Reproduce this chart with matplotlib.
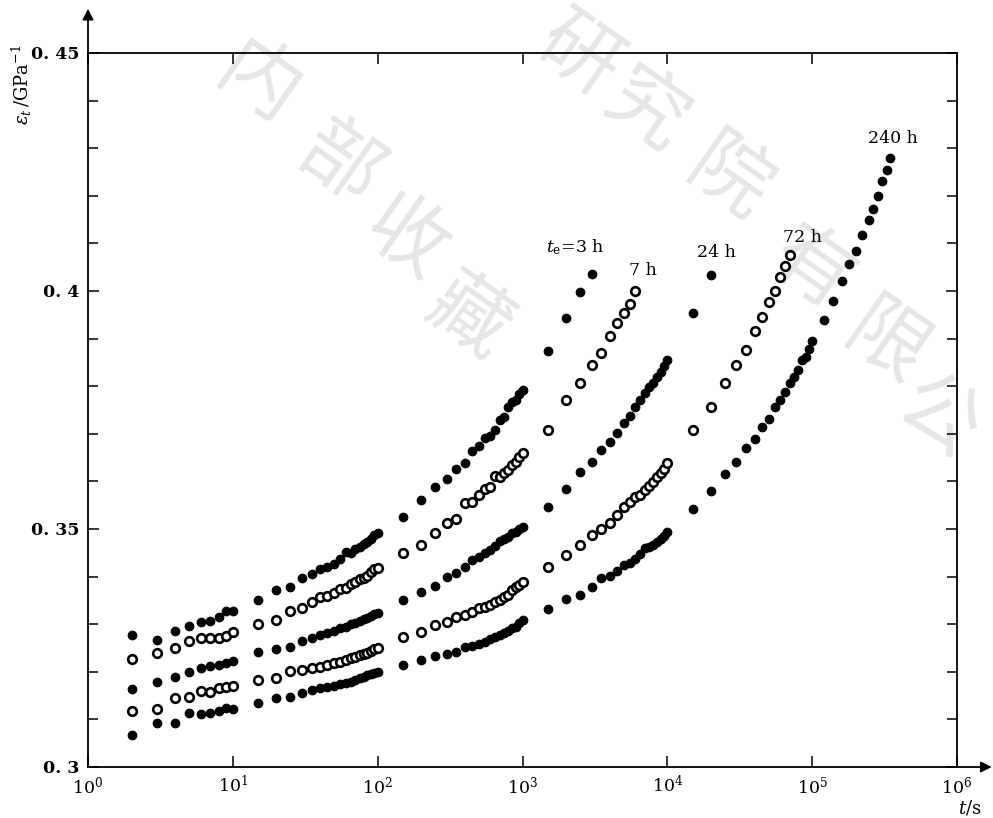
import matplotlib
matplotlib.use("Agg")
import matplotlib.pyplot as plt
from matplotlib.ticker import NullLocator, FixedLocator

# ---------------- data ----------------
T_DEC1 = [2, 3, 4, 5, 6, 7, 8, 9, 10]
T_DEC2 = [15, 20, 25, 30, 35, 40, 45, 50, 55, 60, 65, 70, 75, 80, 85, 90, 95, 100]
T_DEC3 = [150, 200, 250, 300, 350, 400, 450, 500, 550, 600, 650, 700, 750, 800, 850, 900, 950, 1000]
T_DEC4 = [1500, 2000, 2500, 3000, 3500, 4000, 4500, 5000, 5500, 6000, 6500, 7000, 7500, 8000, 8500, 9000, 9500, 10000]
T_DEC5 = [15000, 20000, 25000, 30000, 35000, 40000, 45000, 50000, 55000, 60000, 65000, 70000,
          75000, 80000, 85000, 90000, 95000, 100000]
T_TAIL = [120000, 140000, 160000, 180000, 200000, 220000, 245000, 265000, 285000, 305000, 330000, 345000]

t_3h = T_DEC1 + T_DEC2 + T_DEC3 + [1500, 2000, 2500, 3000]
e_3h = [0.3277, 0.3266, 0.3286, 0.3296, 0.3305, 0.3306, 0.3316, 0.3328, 0.3328,
        0.3351, 0.3372, 0.3379, 0.3398, 0.3406, 0.3417, 0.3421, 0.3426, 0.3437, 0.3452, 0.3449, 0.3459,
        0.3463, 0.3468, 0.3473, 0.3480, 0.3487, 0.3492,
        0.3526, 0.3561, 0.3588, 0.3606, 0.3626, 0.3639, 0.3663, 0.3674, 0.3691, 0.3695, 0.3709, 0.3730,
        0.3736, 0.3756, 0.3766, 0.3772, 0.3784, 0.3791,
        0.3873, 0.3943, 0.3997, 0.4036]

t_7h = T_DEC1 + T_DEC2 + T_DEC3 + [1500, 2000, 2500, 3000, 3500, 4000, 4500, 5000, 5500, 6000]
e_7h = [0.3227, 0.3239, 0.3251, 0.3265, 0.3270, 0.3270, 0.3272, 0.3275, 0.3284,
        0.3300, 0.3309, 0.3328, 0.3335, 0.3347, 0.3358, 0.3359, 0.3366, 0.3375, 0.3377, 0.3384, 0.3389,
        0.3394, 0.3398, 0.3401, 0.3410, 0.3415, 0.3419,
        0.3450, 0.3466, 0.3492, 0.3513, 0.3520, 0.3554, 0.3557, 0.3571, 0.3585, 0.3589, 0.3611, 0.3610,
        0.3618, 0.3624, 0.3634, 0.3641, 0.3651, 0.3659,
        0.3709, 0.3772, 0.3806, 0.3844, 0.3870, 0.3905, 0.3933, 0.3953, 0.3973, 0.4001]

t_24h = T_DEC1 + T_DEC2 + T_DEC3 + T_DEC4 + [15000, 20000]
e_24h = [0.3164, 0.3179, 0.3190, 0.3200, 0.3207, 0.3212, 0.3214, 0.3218, 0.3223,
         0.3242, 0.3247, 0.3253, 0.3265, 0.3270, 0.3277, 0.3281, 0.3286, 0.3291, 0.3295, 0.3300, 0.3303,
         0.3307, 0.3310, 0.3314, 0.3317, 0.3321, 0.3323,
         0.3351, 0.3368, 0.3380, 0.3400, 0.3407, 0.3420, 0.3435, 0.3442, 0.3450, 0.3456, 0.3464, 0.3474,
         0.3478, 0.3484, 0.3491, 0.3494, 0.3499, 0.3504,
         0.3546, 0.3585, 0.3620, 0.3641, 0.3665, 0.3683, 0.3702, 0.3723, 0.3737, 0.3757, 0.3772, 0.3785,
         0.3798, 0.3807, 0.3819, 0.3830, 0.3842, 0.3856,
         0.3954, 0.4034]

t_72h = T_DEC1 + T_DEC2 + T_DEC3 + T_DEC4 + [15000, 20000, 25000, 30000, 35000, 40000, 45000, 50000,
                                              55000, 60000, 65000, 70000]
e_72h = [0.3118, 0.3121, 0.3146, 0.3148, 0.3160, 0.3158, 0.3167, 0.3169, 0.3170,
         0.3183, 0.3188, 0.3202, 0.3204, 0.3207, 0.3211, 0.3214, 0.3219, 0.3221, 0.3225, 0.3228, 0.3232,
         0.3235, 0.3237, 0.3240, 0.3244, 0.3247, 0.3249,
         0.3274, 0.3284, 0.3298, 0.3305, 0.3316, 0.3319, 0.3326, 0.3333, 0.3337, 0.3340, 0.3347, 0.3351,
         0.3358, 0.3361, 0.3372, 0.3379, 0.3382, 0.3389,
         0.3421, 0.3445, 0.3466, 0.3487, 0.3501, 0.3512, 0.3529, 0.3547, 0.3557, 0.3568, 0.3571, 0.3582,
         0.3590, 0.3599, 0.3610, 0.3618, 0.3627, 0.3639,
         0.3709, 0.3756, 0.3806, 0.3845, 0.3877, 0.3917, 0.3946, 0.3976, 0.4001, 0.4030, 0.4053, 0.4076]

t_240h = T_DEC1 + T_DEC2 + T_DEC3 + T_DEC4 + T_DEC5 + T_TAIL
e_240h = [0.3067, 0.3092, 0.3093, 0.3114, 0.3111, 0.3114, 0.3118, 0.3125, 0.3121,
          0.3135, 0.3146, 0.3148, 0.3156, 0.3162, 0.3165, 0.3169, 0.3170, 0.3174, 0.3177, 0.3179, 0.3183,
          0.3186, 0.3190, 0.3193, 0.3195, 0.3198, 0.3200,
          0.3214, 0.3225, 0.3233, 0.3237, 0.3242, 0.3253, 0.3254, 0.3258, 0.3263, 0.3268, 0.3274, 0.3277,
          0.3281, 0.3286, 0.3291, 0.3295, 0.3302, 0.3309,
          0.3331, 0.3352, 0.3361, 0.3379, 0.3398, 0.3401, 0.3412, 0.3424, 0.3429, 0.3436, 0.3447, 0.3461,
          0.3463, 0.3466, 0.3473, 0.3480, 0.3485, 0.3494,
          0.3541, 0.3580, 0.3615, 0.3641, 0.3670, 0.3690, 0.3714, 0.3732, 0.3757, 0.3772, 0.3788, 0.3806,
          0.3819, 0.3835, 0.3854, 0.3861, 0.3878, 0.3896,
          0.3940, 0.3978, 0.4022, 0.4056, 0.4085, 0.4118, 0.4149, 0.4172, 0.4200, 0.4231, 0.4254, 0.4279]

SERIES_T = [t_3h, t_7h, t_24h, t_72h, t_240h]
SERIES_E = [e_3h, e_7h, e_24h, e_72h, e_240h]
SERIES_FILLED = [True, False, True, False, True]
SERIES_LABELS = [r"$t_{\rm e}$=3 h", "7 h", "24 h", "72 h", "240 h"]
LABEL_POS = [(2300, 0.4092), (6800, 0.4044), (22000, 0.4080), (86000, 0.4113), (360000, 0.4321)]

XTICKS = [1, 10, 100, 1000, 10000, 100000, 1000000]
XTICK_LABELS = [r"$10^{0}$", r"$10^{1}$", r"$10^{2}$", r"$10^{3}$", r"$10^{4}$", r"$10^{5}$", r"$10^{6}$"]
YTICKS = [0.30, 0.35, 0.40, 0.45]
YTICK_LABELS = ["0. 3", "0. 35", "0. 4", "0. 45"]
YMINOR = [0.31, 0.32, 0.33, 0.34, 0.36, 0.37, 0.38, 0.39, 0.41, 0.42, 0.43, 0.44]

WATERMARK = [("内", 258, 85), ("部", 340, 165), ("收", 405, 240), ("藏", 468, 318),
             ("研", 578, 56), ("究", 645, 112), ("院", 728, 180), ("有", 812, 270),
             ("限", 885, 345), ("公", 938, 418)]

# ---------------- figure ----------------
plt.rcParams["mathtext.fontset"] = "dejavuserif"
plt.rcParams["font.family"] = ["DejaVu Serif"]

W, H = 993, 818
fig = plt.figure(figsize=(W / 100, H / 100), dpi=100)
ax = fig.add_axes([88 / W, 1 - 767 / H, (957 - 88) / W, (767 - 53) / H])
ax.set_zorder(1)
ax.set_facecolor("none")

# watermark (behind the axes)
for ch, px, py in WATERMARK:
    fig.text(px / W, 1 - py / H, ch, fontsize=58, color="#e6e6e6", rotation=-35,
             ha="center", va="center", family=["Noto Sans CJK SC"], zorder=-5)

for t, e, filled in zip(SERIES_T, SERIES_E, SERIES_FILLED):
    ax.plot(t, e, linestyle="none", marker="o", markersize=6.2,
            markerfacecolor="black" if filled else "white",
            markeredgecolor="black", markeredgewidth=1.9 if not filled else 0.8, zorder=3)

for lab, (x, y) in zip(SERIES_LABELS, LABEL_POS):
    ax.text(x, y, lab, fontsize=12.5, ha="center", va="center", zorder=4)

ax.set_xscale("log")
ax.set_xlim(1, 1e6)
ax.set_ylim(0.30, 0.45)
ax.xaxis.set_major_locator(FixedLocator(XTICKS))
ax.set_xticks(XTICKS)
ax.set_xticklabels(XTICK_LABELS)
ax.xaxis.set_minor_locator(NullLocator())
ax.set_yticks(YTICKS)
ax.set_yticklabels(YTICK_LABELS, fontweight="bold")
ax.set_yticks(YMINOR, minor=True)

ax.tick_params(axis="both", which="both", direction="in", top=True, right=True,
               width=1.1, labelsize=12.5, pad=6)
ax.tick_params(axis="both", which="major", length=8)
ax.tick_params(axis="y", which="minor", length=7)
for sp in ax.spines.values():
    sp.set_linewidth(1.3)

# axis arrows
ax.annotate("", xy=(0, 1.062), xytext=(0, 0.99), xycoords="axes fraction",
            arrowprops=dict(arrowstyle="-|>", color="black", lw=1.3, mutation_scale=16,
                            shrinkA=0, shrinkB=0), annotation_clip=False)
ax.annotate("", xy=(1.04, 0), xytext=(0.99, 0), xycoords="axes fraction",
            arrowprops=dict(arrowstyle="-|>", color="black", lw=1.3, mutation_scale=16,
                            shrinkA=0, shrinkB=0), annotation_clip=False)

fig.text(22 / W, 1 - 85 / H, r"$\varepsilon_t\,/\mathrm{GPa}^{-1}$", rotation=90,
         fontsize=13, ha="center", va="center")
fig.text(970 / W, 1 - 808 / H, r"$t$/s", fontsize=13, ha="center", va="center")

fig.savefig("out.png", dpi=100)
